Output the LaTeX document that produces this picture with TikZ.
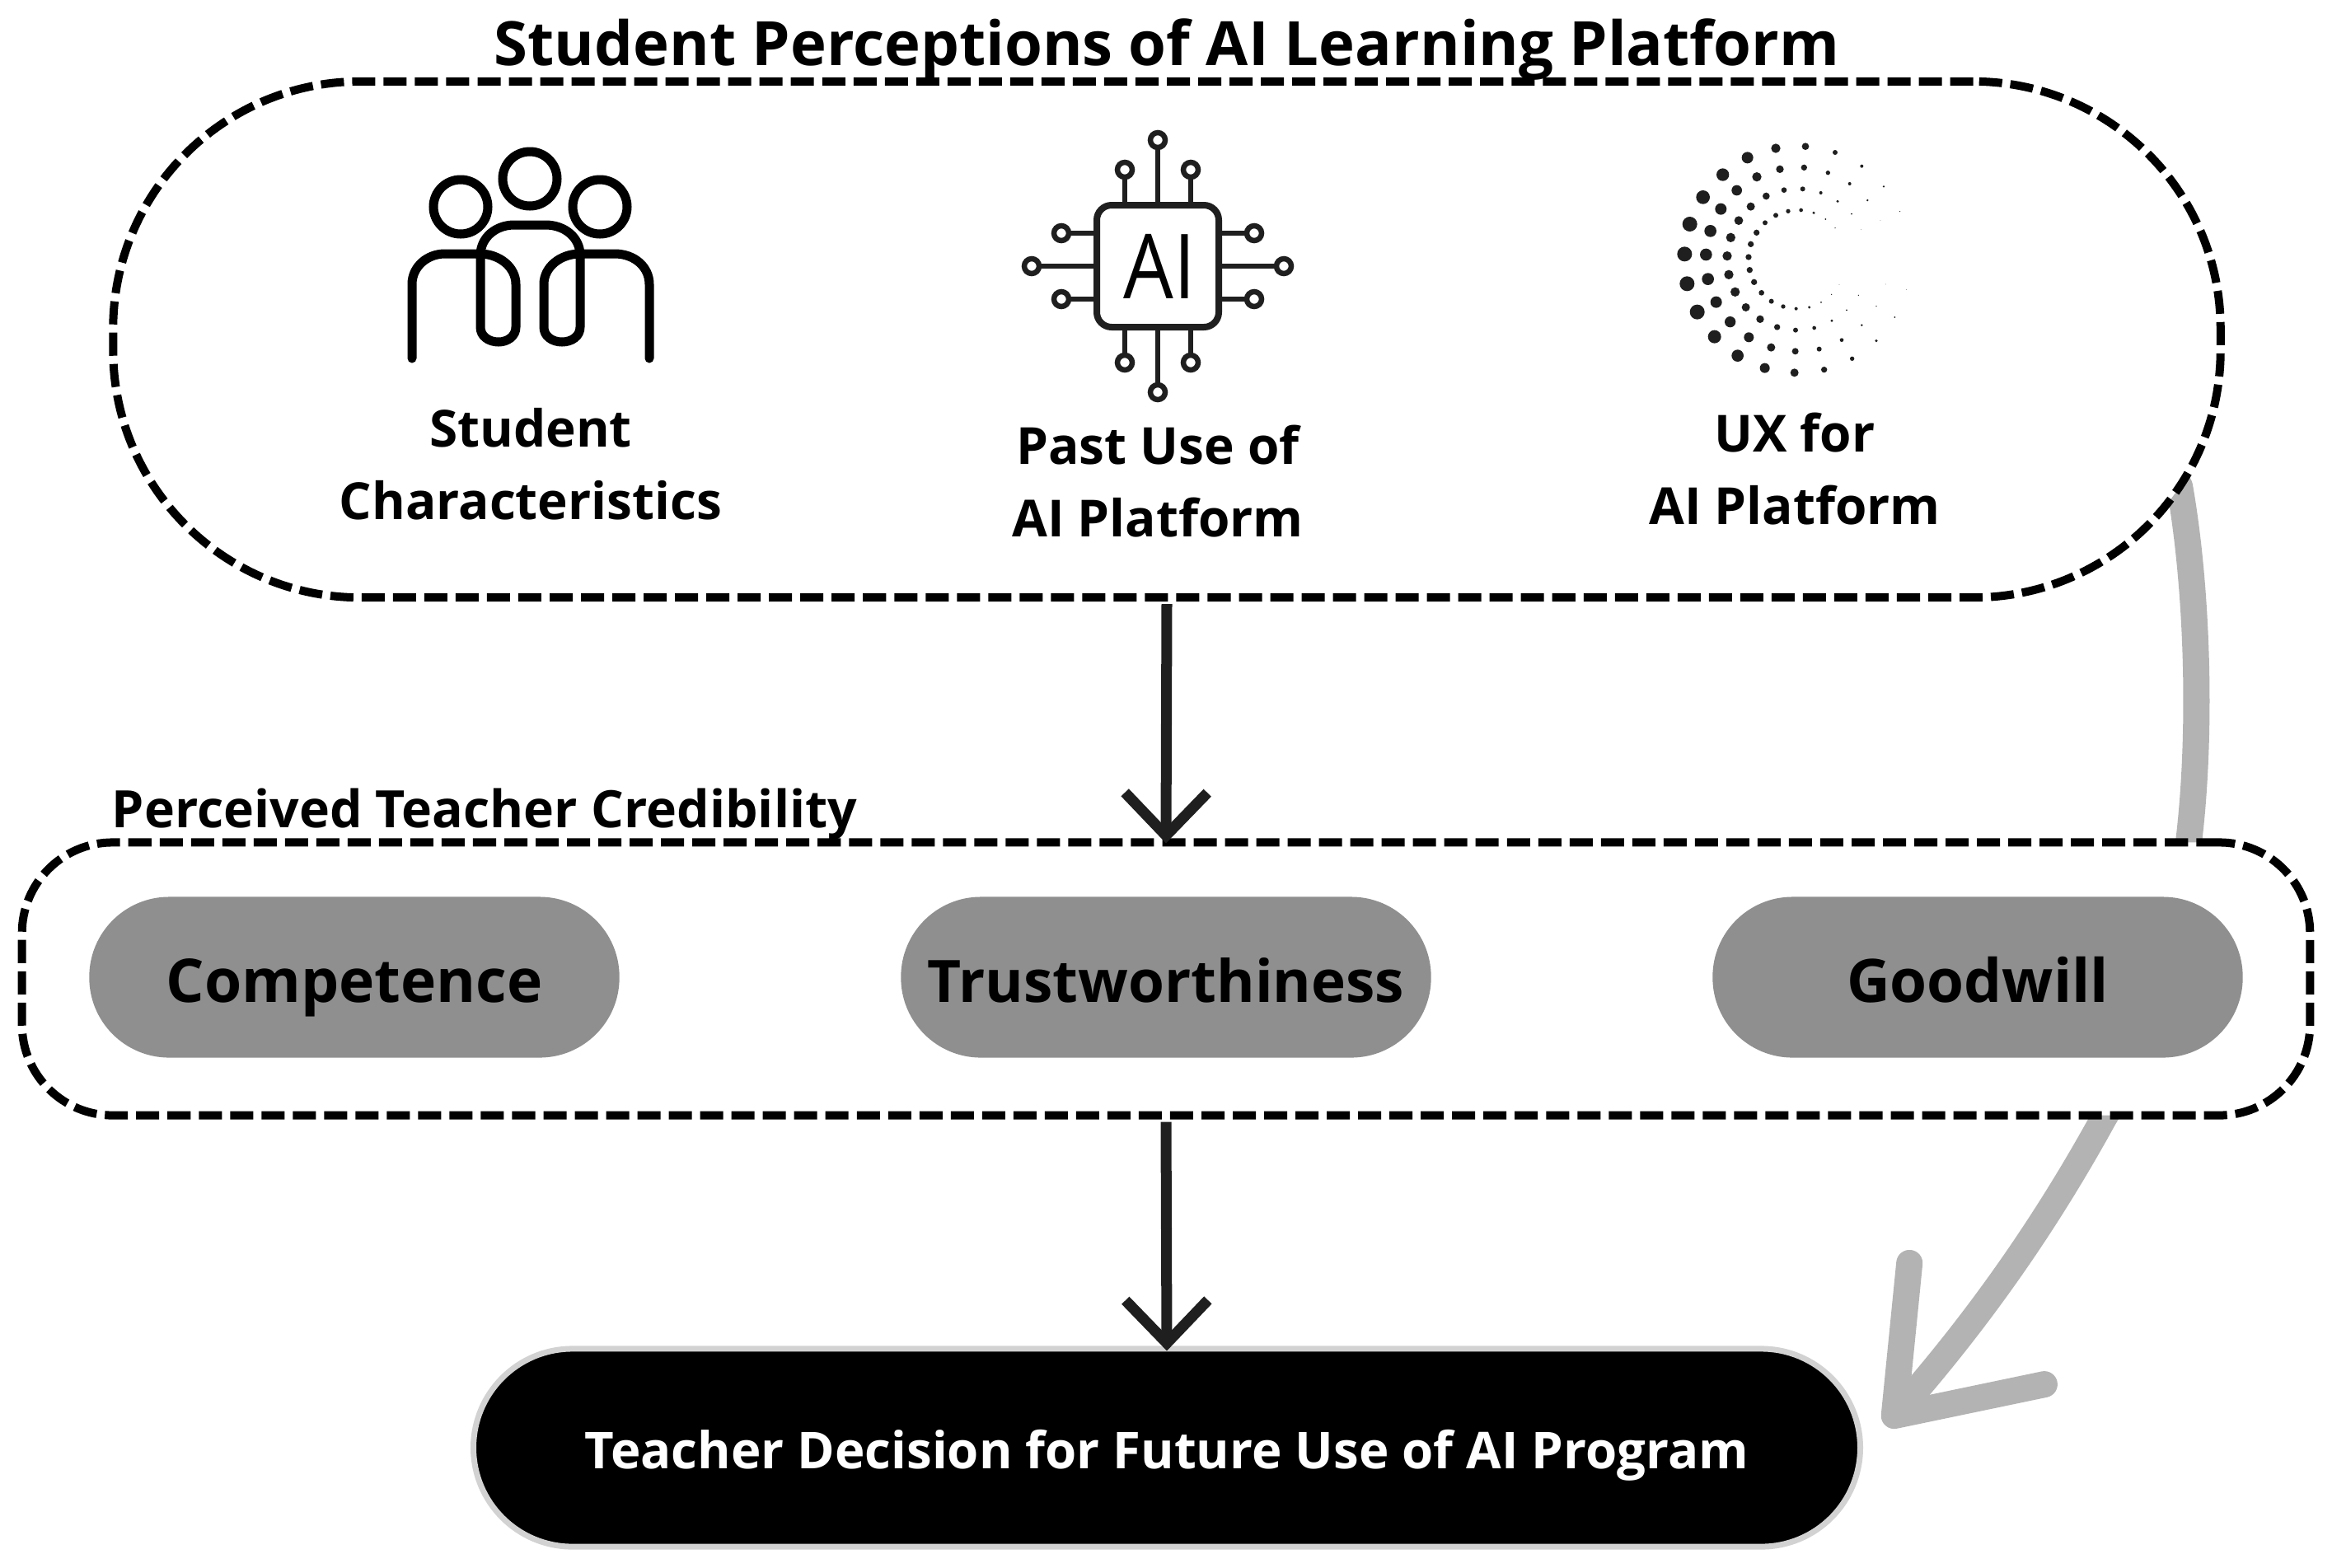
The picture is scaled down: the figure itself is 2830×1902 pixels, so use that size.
\documentclass[tikz,border=0pt]{standalone}
\usepackage{fontspec}
\setmainfont{Open Sans}
\usetikzlibrary{arrows.meta, bending}
\newcommand{\TextSize}[1]{\fontsize{#1}{25}\selectfont\bfseries}

\begin{document}
\begin{tikzpicture}[x=.01cm, y=-.01cm, scale=1,
dashbox/.style={draw=black, fill=white, line width=.1cm, dash pattern=on .28cm off .1cm},
pill/.style={fill=pillgray, text=black, minimum width=6.43cm, minimum height=1.95cm, rounded corners=.97cm, inner sep=0, text height=.75cm, text depth=.15cm},
icon/.style={draw=black, line width=.11cm, line cap=round},
chip/.style={draw=iconink, line width=.065cm},
label/.style={align=center, text=black, inner sep=0},
flow/.style={draw=iconink, line width=.13cm, shorten >=-.06cm, shorten <=.03cm, -{Straight Barb[length=.52cm, width=1cm]}},
bypass/.style={draw=bypassgray, line width=.32cm, line cap=round, -{Straight Barb[round, flex=0, length=1.5cm, width=2.2cm]}},
]
\definecolor{iconink}{HTML}{1F1F1F}
\definecolor{pillgray}{HTML}{8F8F8F}
\definecolor{bypassgray}{HTML}{B3B3B3}
\definecolor{rimgray}{HTML}{D2D2D2}
\useasboundingbox (0,0) rectangle (2830,1902);

%%%%%%%%%%%%%%%%%%%%%%%% BYPASS ARROW %%%%%%%%%%%%%%%%%%%%%%%%%%%
\coordinate (BypassStart) at (2645,590);
\coordinate (BypassEnd) at (2288,1730);
\draw[bypass] (BypassStart) .. controls (2668,720) and (2672,900) .. (2655,1030)
  .. controls (2630,1150) and (2600,1280) .. (2553,1357)
  .. controls (2480,1490) and (2395,1611) .. (BypassEnd);

%%%%%%%%%%%%%%%%%%%%%%%% BOXES %%%%%%%%%%%%%%%%%%%%%%%%%%%
\node[dashbox, minimum width=25.56cm, minimum height=6.26cm, rounded corners=3cm] (Perceptions) at (1416,412) {};
\node[dashbox, minimum width=27.75cm, minimum height=3.31cm, rounded corners=1.1cm] (Credibility) at (1415,1188) {};
\node[label, font=\TextSize{21.1}] (Title) at (1416,60) {Student Perceptions of AI Learning Platform};
\node[label, anchor=west, font=\TextSize{17.8}] (CredTitle) at (135,988) {Perceived Teacher Credibility};

\node[pill, font=\TextSize{20.8}] (Competence) at (430,1186) {Competence};
\node[pill, font=\TextSize{20.2}] (Trust) at (1415,1186) {Trustworthiness};
\node[pill, font=\TextSize{20.7}] (Goodwill) at (2400,1186) {Goodwill};

\node[fill=black, draw=rimgray, line width=.07cm, text=white, minimum width=16.82cm, minimum height=2.4cm, rounded corners=1.2cm, text height=.65cm, text depth=.15cm, font=\TextSize{17.55}] (Decision) at (1416,1757) {Teacher Decision for Future Use of AI Program};

%%%%%%%%%%%%%%%%%%%%%%%% ARROWS %%%%%%%%%%%%%%%%%%%%%%%%%%%
\draw[flow] (Perceptions.south) -- (Credibility.north);
\draw[flow] (Credibility.south) -- (Decision.north);

%%%%%%%%%%%%%%%%%%%%%%%% LABELS %%%%%%%%%%%%%%%%%%%%%%%%%%%
\node[label, font=\TextSize{17.65}] (StudentText) at (644,563) {Student\\Characteristics};
\node[label, font=\TextSize{17.65}] (PastText) at (1405,584) {Past Use of\\AI Platform};
\node[label, font=\TextSize{17.65}] (UxText) at (2178,569) {UX for\\AI Platform};

%%%%%%%%%%%%%%%%%%%%%%%% STUDENT ICON %%%%%%%%%%%%%%%%%%%%%%%%%%%
\draw[icon] (643,217) circle (33);
\draw[icon] (559,251) circle (33);
\draw[icon] (728,251) circle (33);
\draw[icon] (500,435) -- (500,345) .. controls (500,324) and (518,308) .. (540,308) -- (582,308)
  .. controls (606,308) and (626,324) .. (626,345) -- (626,397)
  .. controls (626,408) and (616,415) .. (605,415) .. controls (593,415) and (583,408) .. (583,397)
  -- (583,310) .. controls (583,288) and (602,273) .. (624,273) -- (662,273)
  .. controls (685,273) and (704,288) .. (704,310) -- (704,397)
  .. controls (704,408) and (694,415) .. (682,415) .. controls (670,415) and (660,408) .. (660,397)
  -- (660,345) .. controls (660,324) and (680,308) .. (704,308) -- (746,308)
  .. controls (770,308) and (788,324) .. (788,345) -- (788,435);

%%%%%%%%%%%%%%%%%%%%%%%% AI CHIP %%%%%%%%%%%%%%%%%%%%%%%%%%%
\begin{scope}[shift={(1405,323)}]
\draw[chip, line width=.08cm, rounded corners=.18cm] (-74,-74) rectangle (74,74);
\foreach \turn in {0,90,180,270} {
  \begin{scope}[rotate=\turn]
  \draw[chip] (74,0) -- (144,0);
  \draw[chip] (153,0) circle (9);
  \draw[chip] (74,40) -- (107,40);
  \draw[chip] (117,40) circle (9);
  \draw[chip] (74,-40) -- (107,-40);
  \draw[chip] (117,-40) circle (9);
  \end{scope}
}
\node[inner sep=0, text=black, xscale=.88, font=\fontsize{31}{31}\selectfont] (ChipText) at (2,0) {AI};
\end{scope}

%%%%%%%%%%%%%%%%%%%%%%%% UX DOTS %%%%%%%%%%%%%%%%%%%%%%%%%%%
\begin{scope}[shift={(1980,140)}, scale=.3333]
\foreach \dx/\dy/\dr in {193/505/27,202/613/27,239/716/27,302/806/24,386/875/22,485/920/18,593/937/15,701/926/11,803/886/8,891/821/5,958/735/3,1000/635/1,
  212/396/27,260/298/25,332/216/23,422/154/21,525/120/17,633/113/13,741/135/9,838/185/6,918/259/4,977/350/2,
  271/507/22,278/596/22,308/680/21,359/752/20,427/808/18,508/845/15,596/859/12,683/851/9,765/818/7,838/764/4,891/695/2,925/615/1,
  287/421/22,325/341/21,383/273/19,456/224/17,540/196/14,628/190/11,715/209/8,794/249/6,859/309/4,906/383/1,
  348/512/17,354/580/17,377/643/17,416/699/15,468/742/14,530/771/11,597/782/9,665/774/7,729/748/5,783/709/3,826/655/2,
  361/445/17,390/383/16,434/332/15,490/294/13,555/272/10,623/268/9,689/282/6,750/313/5,801/359/3,836/415/1,
  426/516/11,430/563/11,446/607/11,473/646/10,509/677/9,552/696/8,599/704/6,647/699/5,690/681/3,728/652/2,756/616/1,
  434/469/11,455/427/11,486/391/9,525/364/9,570/349/8,617/345/7,663/355/5,706/378/3,741/410/2} {
  \fill[iconink] (\dx,\dy) circle (\dr);
}
\end{scope}
\end{tikzpicture}
\end{document}
